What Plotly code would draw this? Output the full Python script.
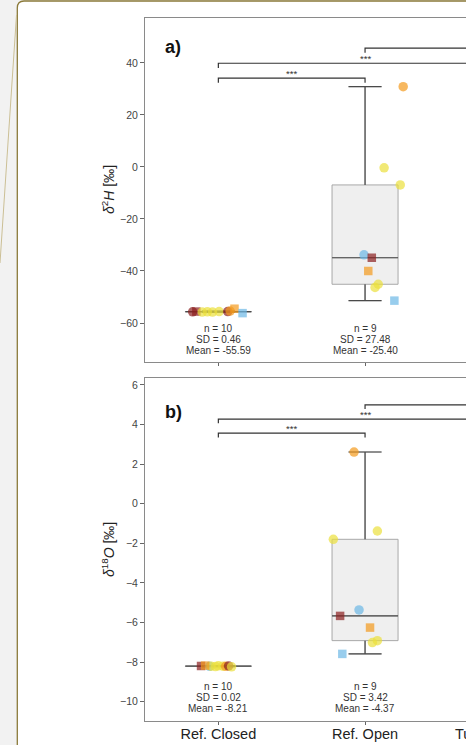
import numpy as np
import plotly.graph_objects as go

W, H = 466, 745

categories = ["Ref. Closed", "Ref. Open"]
cut_label = "Tu"

# ---- panel a) delta 2H ----
h_closed = [-55.7, -55.6, -55.8, -55.7, -55.8, -55.6, -55.6, -55.4, -54.5, -56.2]
h_closed_site = ["R", "R", "Y", "Y", "Y", "Y", "R", "O", "O", "B"]
h_closed_kind = ["c", "s", "c", "c", "c", "c", "c", "c", "s", "s"]
h_closed_jit = [-0.175, -0.15, -0.11, -0.075, -0.04, 0.005, 0.064, 0.08, 0.11, 0.165]

h_open = [30.9, -0.3, -6.9, -33.8, -34.9, -40.0, -45.1, -46.3, -51.4]
h_open_site = ["O", "Y", "Y", "B", "R", "O", "Y", "Y", "B"]
h_open_kind = ["c", "c", "c", "c", "s", "s", "c", "c", "s"]
h_open_jit = [0.26, 0.13, 0.24, -0.007, 0.046, 0.022, 0.09, 0.068, 0.2]

# ---- panel b) delta 18O ----
o_closed = [-8.20, -8.22, -8.21, -8.23, -8.19, -8.21, -8.22, -8.20, -8.24, -8.18]
o_closed_site = ["R", "B", "Y", "Y", "Y", "Y", "O", "R", "Y", "O"]
o_closed_kind = ["s", "c", "c", "c", "c", "c", "c", "c", "c", "s"]
o_closed_jit = [-0.118, -0.06, -0.05, -0.02, 0.0, 0.03, 0.05, 0.07, 0.09, -0.09]

o_open = [2.61, -1.38, -1.80, -5.37, -5.67, -6.26, -6.92, -7.02, -7.59]
o_open_site = ["O", "Y", "Y", "B", "R", "O", "Y", "Y", "B"]
o_open_kind = ["c", "c", "c", "c", "s", "s", "c", "c", "s"]
o_open_jit = [-0.075, 0.084, -0.216, -0.041, -0.17, 0.034, 0.084, 0.05, -0.155]

# printed statistics
stat_n_a = [10, 9]
stat_sd_a = ["0.46", "27.48"]
stat_mean_a = ["-55.59", "-25.40"]
stat_n_b = [10, 9]
stat_sd_b = ["0.02", "3.42"]
stat_mean_b = ["-8.21", "-4.37"]

# significance comparisons (category index pairs)
comparisons = [(0, 1), (0, 2), (1, 3)]
sig_labels = ["***", "***", "***"]

# ---------------- styles ----------------
site_color = {"R": "#8c1f1f", "Y": "#ebdf3c", "O": "#f39a1c", "B": "#6cb8e6"}
kind_symbol = {"c": "circle", "s": "square"}
kind_size = {"c": 9.5, "s": 8.5}
FONT = "Liberation Sans, Arial, sans-serif"


def px2x(p):
    return p / W


def py2y(p):
    return 1 - p / H


fig = go.Figure()


def box_stats(v):
    v = np.asarray(v, float)
    q1, med, q3 = np.percentile(v, [25, 50, 75])
    iqr = q3 - q1
    lo = v[v >= q1 - 1.5 * iqr].min()
    hi = v[v <= q3 + 1.5 * iqr].max()
    return q1, med, q3, lo, hi


def add_group(ci, vals, sites, kinds, jit, xa, ya):
    q1, med, q3, lo, hi = box_stats(vals)
    bw = 0.45
    fig.add_trace(go.Box(
        x=[ci], q1=[q1], median=[med], q3=[q3], lowerfence=[lo], upperfence=[hi],
        width=bw, whiskerwidth=0.5, fillcolor="#efefef",
        line=dict(color="#a8a8a8", width=1), boxpoints=False,
        showlegend=False, hoverinfo="skip", xaxis=xa, yaxis=ya))
    c = ci
    h = bw / 4
    fig.add_trace(go.Scatter(
        x=[c, c, None, c - h, c + h, None, c, c, None, c - h, c + h, None, c - 2 * h, c + 2 * h],
        y=[q3, hi, None, hi, hi, None, q1, lo, None, lo, lo, None, med, med],
        mode="lines", line=dict(color="#4a4a4a", width=1.2),
        showlegend=False, hoverinfo="skip", xaxis=xa, yaxis=ya))
    xs = [ci + j for j in jit]
    fig.add_trace(go.Scatter(
        x=xs, y=vals, mode="markers",
        marker=dict(color=[site_color[s] for s in sites],
                    symbol=[kind_symbol[k] for k in kinds],
                    size=[kind_size[k] for k in kinds],
                    opacity=0.7, line=dict(width=0)),
        showlegend=False, hoverinfo="skip", xaxis=xa, yaxis=ya))


add_group(0, h_closed, h_closed_site, h_closed_kind, h_closed_jit, "x", "y")
add_group(1, h_open, h_open_site, h_open_kind, h_open_jit, "x", "y")
add_group(0, o_closed, o_closed_site, o_closed_kind, o_closed_jit, "x2", "y2")
add_group(1, o_open, o_open_site, o_open_kind, o_open_jit, "x2", "y2")

shapes = []
annotations = []

# slide panel background with olive border
x0p = px2x(17.3)
shapes.append(dict(
    type="path", xref="paper", yref="paper", layer="below",
    path=(f"M {x0p},{py2y(H + 5)} L {x0p},{py2y(8)} "
          f"Q {x0p},{py2y(1)} {px2x(24)},{py2y(1)} L {px2x(W + 5)},{py2y(1)} "
          f"L {px2x(W + 5)},{py2y(H + 5)} Z"),
    fillcolor="white", line=dict(color="#8b7a3a", width=1.3)))
shapes.append(dict(type="line", xref="paper", yref="paper", layer="below",
                   x0=px2x(16.5), y0=py2y(15), x1=px2x(0), y1=py2y(263),
                   line=dict(color="#cbbf95", width=1)))

# significance brackets
levels = {"y": ([34.2, 39.9, 45.7], 1.8), "y2": ([3.56, 4.27, 4.99], 0.21)}
for ya, xa in (("y", "x"), ("y2", "x2")):
    lv, drop = levels[ya]
    for (i, j), lab, L in zip(comparisons, sig_labels, lv):
        shapes.append(dict(type="path", xref=xa, yref=ya,
                           path=f"M {i},{L - drop} L {i},{L} L {j},{L} L {j},{L - drop}",
                           line=dict(color="#333333", width=1.2)))
        annotations.append(dict(x=(i + j) / 2, y=L, xref=xa, yref=ya, text=lab,
                                showarrow=False, xanchor="center", yanchor="bottom", yshift=-3,
                                font=dict(family=FONT, size=9.5, color="#333333")))

# statistics text
for xa, ya, ns, sds, means, ycen in (
        ("x", "y", stat_n_a, stat_sd_a, stat_mean_a, -66.2),
        ("x2", "y2", stat_n_b, stat_sd_b, stat_mean_b, -9.77)):
    for ci in range(len(categories)):
        lines = [f"n = {ns[ci]}", f"SD = {sds[ci]}", f"Mean = {means[ci]}"]
        for k, t in enumerate(lines):
            annotations.append(dict(x=ci, y=ycen, xref=xa, yref=ya, text=t,
                                    showarrow=False, xanchor="center", yanchor="middle",
                                    yshift=(1 - k) * 11,
                                    font=dict(family=FONT, size=10, color="#333333")))

# panel letters
annotations.append(dict(x=px2x(163), y=py2y(47), xref="paper", yref="paper", text="<b>a)</b>",
                        showarrow=False, xanchor="left", yanchor="middle",
                        font=dict(family=FONT, size=18, color="#111111")))
annotations.append(dict(x=px2x(163), y=py2y(412), xref="paper", yref="paper", text="<b>b)</b>",
                        showarrow=False, xanchor="left", yanchor="middle",
                        font=dict(family=FONT, size=18, color="#111111")))

# y titles
annotations.append(dict(x=px2x(108), y=py2y(190), xref="paper", yref="paper",
                        text="<i>δ</i><sup>2</sup><i>H</i> [‰]", textangle=-90,
                        showarrow=False, xanchor="center", yanchor="middle",
                        font=dict(family=FONT, size=14, color="#222222")))
annotations.append(dict(x=px2x(108), y=py2y(550), xref="paper", yref="paper",
                        text="<i>δ</i><sup>18</sup><i>O</i> [‰]", textangle=-90,
                        showarrow=False, xanchor="center", yanchor="middle",
                        font=dict(family=FONT, size=14, color="#222222")))

# cut-off third category label
annotations.append(dict(x=px2x(453), y=py2y(734), xref="paper", yref="paper", text=cut_label,
                        showarrow=False, xanchor="left", yanchor="middle",
                        font=dict(family=FONT, size=14.5, color="#222222")))

xr = [-0.5, -0.5 + (W - 145) / 146.7]
xcommon = dict(range=xr, showline=True, mirror=True, linecolor="#8a8a8a", linewidth=1,
               showgrid=False, zeroline=False, ticks="outside", ticklen=3,
               tickcolor="#666666", tickvals=list(range(len(categories))),
               ticktext=categories, automargin=False, ticklabelstandoff=-3,
               tickfont=dict(family=FONT, size=14.5, color="#222222"))
ycommon = dict(showline=True, mirror=False, linecolor="#8a8a8a", linewidth=1,
               showgrid=False, zeroline=False, ticks="outside", ticklen=4,
               tickcolor="#666666", automargin=False,
               tickfont=dict(family=FONT, size=10.5, color="#444444"))

fig.update_layout(
    width=W, height=H, margin=dict(l=0, r=0, t=0, b=0),
    paper_bgcolor="#f2f2f2", plot_bgcolor="white", showlegend=False,
    xaxis=dict(domain=[px2x(145), 1], anchor="y", showticklabels=False, **xcommon),
    yaxis=dict(domain=[py2y(362), py2y(18)], anchor="x", range=[-75.0, 57.3],
               tickvals=[-60, -40, -20, 0, 20, 40], **ycommon),
    xaxis2=dict(domain=[px2x(145), 1], anchor="y2", **xcommon),
    yaxis2=dict(domain=[py2y(721), py2y(378)], anchor="x2", range=[-10.98, 6.35],
                tickvals=[-10, -8, -6, -4, -2, 0, 2, 4, 6], **ycommon),
    shapes=shapes, annotations=annotations,
)

fig.write_html("out.html", config={"displayModeBar": False},
               post_script="document.body.style.margin='0';")
